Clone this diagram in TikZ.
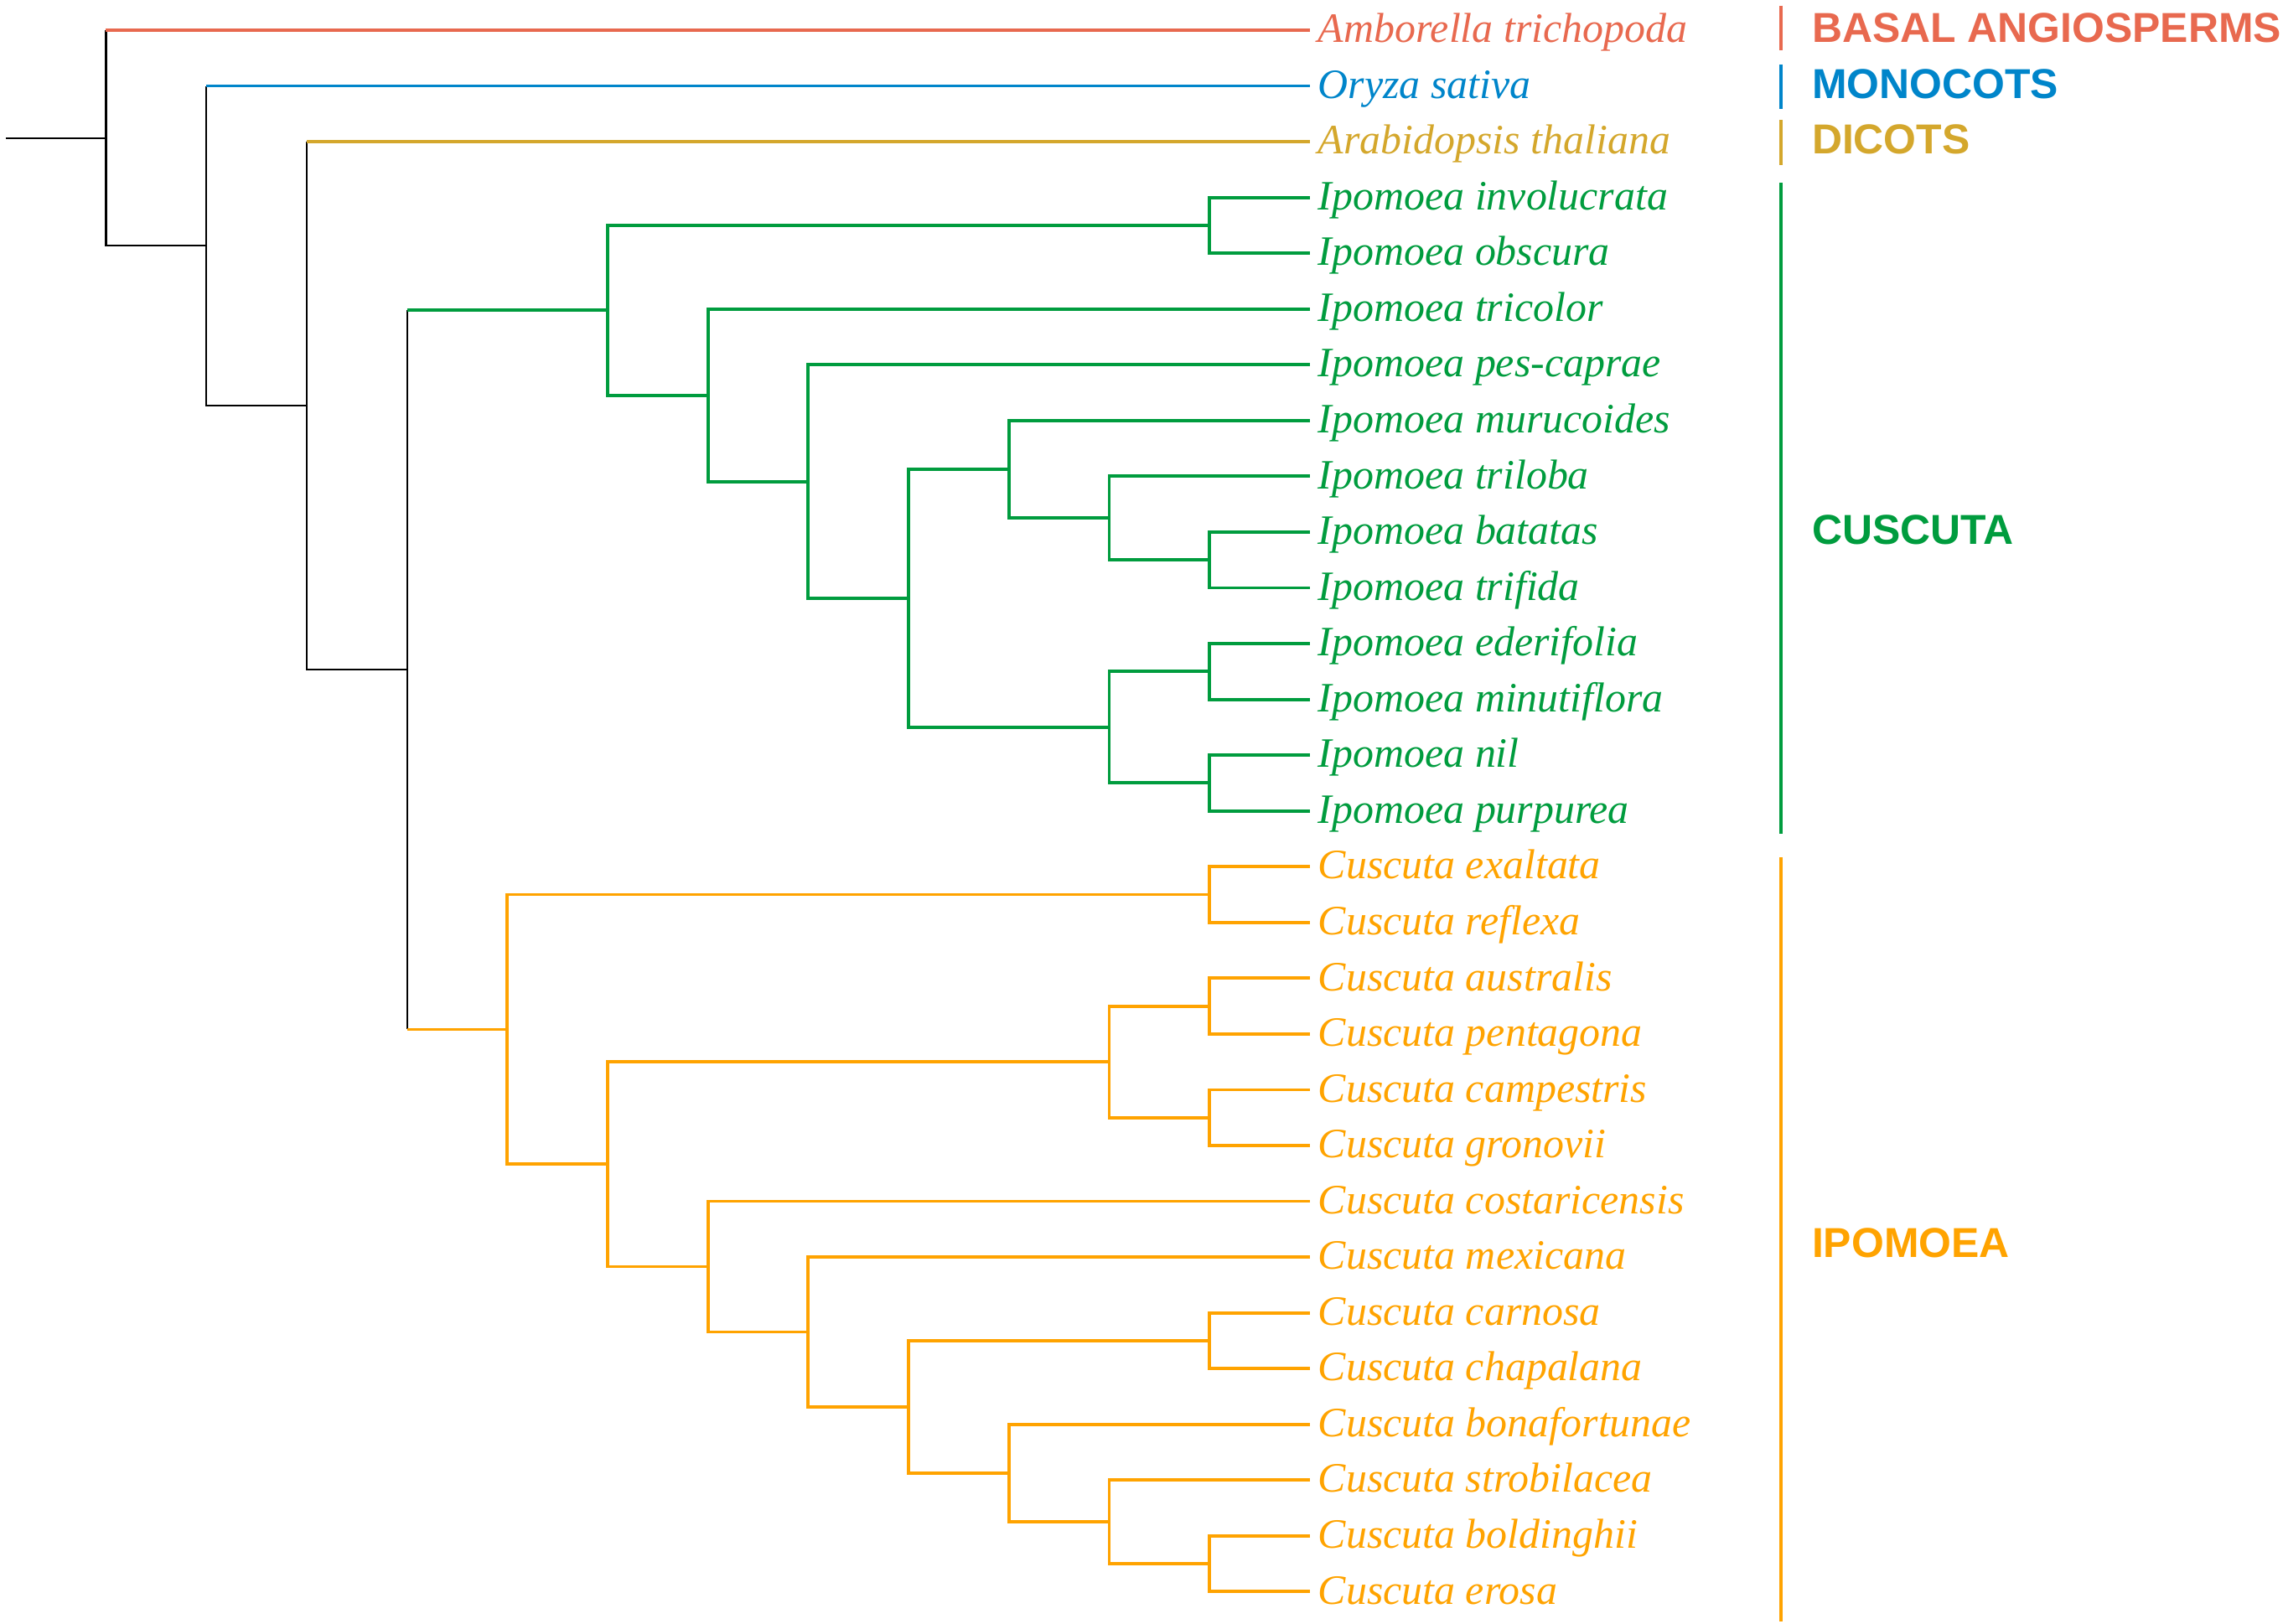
\documentclass[tikz,border=0pt]{standalone}
\usepackage{fontspec}
\setmainfont{Liberation Serif}
\setsansfont{Liberation Sans}

\definecolor{basal}{HTML}{E8694F}
\definecolor{monocot}{HTML}{0085CA}
\definecolor{dicot}{HTML}{D4A72C}
\definecolor{cladeg}{HTML}{009C3E}
\definecolor{cladeo}{HTML}{FFA300}

\tikzset{
  leaf/.style={anchor=west, inner xsep=0.1cm, inner ysep=0pt, outer sep=0pt,
    text height=12pt, text depth=3.64pt,
    font=\fontsize{14.2}{17}\selectfont\itshape},
  clade/.style={anchor=west, inner sep=0pt, outer sep=0pt,
    text height=12pt, text depth=3.64pt,
    font=\fontsize{14.2}{17}\selectfont\sffamily\bfseries},
  branch/.style={line width=1.1pt},
  stem/.style={line width=0.6pt, black},
  bar/.style={line width=1.2pt}
}

\begin{document}
\begin{tikzpicture}[x=1.197cm, y=-0.6655cm]
      \useasboundingbox (-1.265cm,0.36cm) rectangle (25.975cm,-19.02cm);
      \draw
        (12,0) node[leaf, text=basal] (amb){Amborella trichopoda}
        (12,1) node[leaf, text=monocot] (ory){Oryza sativa}
        (12,2) node[leaf, text=dicot] (arab){Arabidopsis thaliana};
      \draw[text=cladeg]
        (12,3) node[leaf] (invol){Ipomoea involucrata}
        (12,4) node[leaf] (obsc){Ipomoea obscura}
        (12,5) node[leaf] (tric){Ipomoea tricolor}
        (12,6) node[leaf] (pesc){Ipomoea pes-caprae}
        (12,7) node[leaf] (muru){Ipomoea murucoides}
        (12,8) node[leaf] (tril){Ipomoea triloba}
        (12,9) node[leaf] (bata){Ipomoea batatas}
        (12,10) node[leaf] (trif){Ipomoea trifida}
        (12,11) node[leaf] (eder){Ipomoea ederifolia}
        (12,12) node[leaf] (minu){Ipomoea minutiflora}
        (12,13) node[leaf] (nil){Ipomoea nil}
        (12,14) node[leaf] (purp){Ipomoea purpurea};
      \draw[text=cladeo]
        (12,15) node[leaf] (exal){Cuscuta exaltata}
        (12,16) node[leaf] (refl){Cuscuta reflexa}
        (12,17) node[leaf] (aust){Cuscuta australis}
        (12,18) node[leaf] (pent){Cuscuta pentagona}
        (12,19) node[leaf] (camp){Cuscuta campestris}
        (12,20) node[leaf] (gron){Cuscuta gronovii}
        (12,21) node[leaf] (cost){Cuscuta costaricensis}
        (12,22) node[leaf] (mexi){Cuscuta mexicana}
        (12,23) node[leaf] (carn){Cuscuta carnosa}
        (12,24) node[leaf] (chap){Cuscuta chapalana}
        (12,25) node[leaf] (bona){Cuscuta bonafortunae}
        (12,26) node[leaf] (stro){Cuscuta strobilacea}
        (12,27) node[leaf] (bold){Cuscuta boldinghii}
        (12,28) node[leaf] (eros){Cuscuta erosa};
      \draw
        (17.005,0) node[clade, text=basal] (lbasal){BASAL ANGIOSPERMS}
        (17.005,1) node[clade, text=monocot] (lmono){MONOCOTS}
        (17.005,2) node[clade, text=dicot] (ldico){DICOTS}
        (17.005,9) node[clade, text=cladeg] (lcusc){CUSCUTA}
        (17.005,21.78) node[clade, text=cladeo] (lipom){IPOMOEA};
      \coordinate (root) at (-1,1.9338);
      \coordinate (A) at (0,1.9338);
      \coordinate (B) at (1,3.8677);
      \coordinate (C) at (2,6.7354);
      \coordinate (D) at (3,11.4707);
      \coordinate (G1) at (5,5.0234);
      \coordinate (G2) at (6,6.5469);
      \coordinate (G3) at (7,8.0938);
      \coordinate (G4) at (8,10.1875);
      \coordinate (G5) at (9,7.875);
      \coordinate (G6) at (10,8.75);
      \coordinate (G8) at (10,12.5);
      \coordinate (p1) at (11,3.5);
      \coordinate (p2) at (11,9.5);
      \coordinate (p3) at (11,11.5);
      \coordinate (p4) at (11,13.5);
      \coordinate (O1) at (4,17.918);
      \coordinate (O2) at (5,20.3359);
      \coordinate (O3) at (10,18.5);
      \coordinate (O4) at (6,22.1719);
      \coordinate (O5) at (7,23.3438);
      \coordinate (O6) at (8,24.6875);
      \coordinate (O7) at (9,25.875);
      \coordinate (O8) at (10,26.75);
      \coordinate (q1) at (11,15.5);
      \coordinate (q2) at (11,17.5);
      \coordinate (q3) at (11,19.5);
      \coordinate (q4) at (11,23.5);
      \coordinate (q5) at (11,27.5);
      \begin{scope}[stem]
        \draw (root) -- (A);
        \draw (A |- amb) |- (B);
        \draw (B |- ory) |- (C);
        \draw (C |- arab) |- (D);
        \draw (D |- G1) -- (D |- O1);
      \end{scope}
      \begin{scope}[branch]
        \draw[basal] (A |- amb) -- (amb);
        \draw[monocot] (B |- ory) -- (ory);
        \draw[dicot] (C |- arab) -- (arab);
      \end{scope}
      \begin{scope}[branch, cladeg]
        \draw (D |- G1) -- (G1);
        \draw (G1) |- (p1);
        \draw (G1) |- (G2);
        \draw (p1) |- (invol);
        \draw (p1) |- (obsc);
        \draw (G2) |- (tric);
        \draw (G2) |- (G3);
        \draw (G3) |- (pesc);
        \draw (G3) |- (G4);
        \draw (G4) |- (G5);
        \draw (G4) |- (G8);
        \draw (G5) |- (muru);
        \draw (G5) |- (G6);
        \draw (G6) |- (tril);
        \draw (G6) |- (p2);
        \draw (p2) |- (bata);
        \draw (p2) |- (trif);
        \draw (G8) |- (p3);
        \draw (G8) |- (p4);
        \draw (p3) |- (eder);
        \draw (p3) |- (minu);
        \draw (p4) |- (nil);
        \draw (p4) |- (purp);
      \end{scope}
      \begin{scope}[branch, cladeo]
        \draw (D |- O1) -- (O1);
        \draw (O1) |- (q1);
        \draw (O1) |- (O2);
        \draw (q1) |- (exal);
        \draw (q1) |- (refl);
        \draw (O2) |- (O3);
        \draw (O2) |- (O4);
        \draw (O3) |- (q2);
        \draw (O3) |- (q3);
        \draw (q2) |- (aust);
        \draw (q2) |- (pent);
        \draw (q3) |- (camp);
        \draw (q3) |- (gron);
        \draw (O4) |- (cost);
        \draw (O4) |- (O5);
        \draw (O5) |- (mexi);
        \draw (O5) |- (O6);
        \draw (O6) |- (q4);
        \draw (O6) |- (O7);
        \draw (q4) |- (carn);
        \draw (q4) |- (chap);
        \draw (O7) |- (bona);
        \draw (O7) |- (O8);
        \draw (O8) |- (stro);
        \draw (O8) |- (q5);
        \draw (q5) |- (bold);
        \draw (q5) |- (eros);
      \end{scope}
      \begin{scope}[bar]
        \draw[basal] (16.696,-0.44) -- (16.696,0.36);
        \draw[monocot] (16.696,0.616) -- (16.696,1.41);
        \draw[dicot] (16.696,1.61) -- (16.696,2.42);
        \draw[cladeg] (16.696,2.735) -- (16.696,14.41);
        \draw[cladeo] (16.696,14.83) -- (16.696,28.53);
      \end{scope}
    \end{tikzpicture}
\end{document}
